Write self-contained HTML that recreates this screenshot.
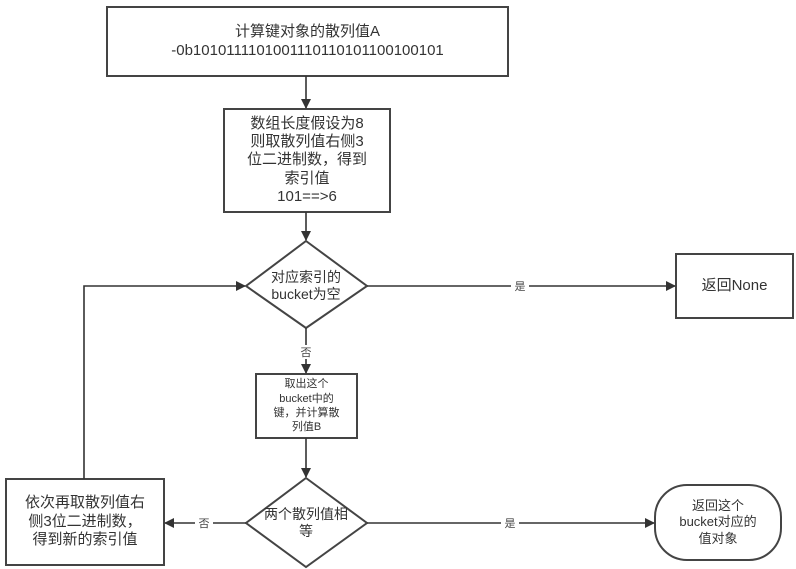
<!DOCTYPE html>
<html><head><meta charset="utf-8"><style>
body{margin:0;background:#fff;width:796px;height:569px;overflow:hidden;position:relative;font-family:"Liberation Sans","Noto Sans CJK SC",sans-serif;color:#333}
.t{position:absolute;text-align:center;display:flex;align-items:center;justify-content:center;line-height:1.25}
</style></head><body>
<svg width="796" height="569" style="position:absolute;left:0;top:0" xmlns="http://www.w3.org/2000/svg">
<defs><marker id="a" markerWidth="10" markerHeight="10" refX="9" refY="5" orient="auto" markerUnits="userSpaceOnUse"><path d="M0,0 L10,5 L0,10 z" fill="#333"/></marker></defs>
<g fill="none" stroke="#444" stroke-width="2">
<rect x="107" y="7" width="401" height="69"/>
<rect x="224" y="109" width="166" height="103"/>
<polygon points="306,241 367,286 306,328 246,286"/>
<rect x="676" y="254" width="117" height="64"/>
<rect x="256" y="374" width="101" height="64"/>
<polygon points="306,478 367,523 306,567 246,523"/>
<rect x="6" y="479" width="158" height="86"/>
<rect x="655" y="485" width="126" height="75" rx="32"/>
<g stroke="#333" stroke-width="1.6">
<line x1="306" y1="76" x2="306" y2="108" marker-end="url(#a)"/>
<line x1="306" y1="212" x2="306" y2="240" marker-end="url(#a)"/>
<line x1="367" y1="286" x2="675" y2="286" marker-end="url(#a)"/>
<line x1="306" y1="328" x2="306" y2="373" marker-end="url(#a)"/>
<line x1="306" y1="438" x2="306" y2="477" marker-end="url(#a)"/>
<line x1="367" y1="523" x2="654" y2="523" marker-end="url(#a)"/>
<line x1="246" y1="523" x2="165" y2="523" marker-end="url(#a)"/>
<polyline points="84,479 84,286 245,286" marker-end="url(#a)"/>
</g></g>
<g font-size="11" fill="#444" text-anchor="middle" font-family="Liberation Sans,Noto Sans CJK SC,sans-serif">
<rect x="511" y="279" width="18" height="14" fill="#fff"/><text x="520" y="290">是</text>
<rect x="297" y="345" width="18" height="14" fill="#fff"/><text x="306" y="356">否</text>
<rect x="501" y="516" width="18" height="14" fill="#fff"/><text x="510" y="527">是</text>
<rect x="195" y="516" width="18" height="14" fill="#fff"/><text x="204" y="527">否</text>
</g>
</svg>
<div class="t" style="left:107px;top:7px;width:401px;height:69px;font-size:15px">计算键对象的散列值A<br>-0b1010111101001110110101100100101</div>
<div class="t" style="left:224px;top:109px;width:166px;height:103px;font-size:15px;line-height:1.22">数组长度假设为8<br>则取散列值右侧3<br>位二进制数，得到<br>索引值<br>101==>6</div>
<div class="t" style="left:250px;top:262px;width:112px;height:48px;font-size:14px">对应索引的<br>bucket为空</div>
<div class="t" style="left:676px;top:254px;width:117px;height:64px;font-size:15px">返回None</div>
<div class="t" style="left:256px;top:374px;width:101px;height:64px;font-size:11px;line-height:1.3">取出这个<br>bucket中的<br>键，并计算散<br>列值B</div>
<div class="t" style="left:250px;top:500px;width:112px;height:46px;font-size:14px">两个散列值相<br>等</div>
<div class="t" style="left:6px;top:479px;width:158px;height:86px;font-size:15px">依次再取散列值右<br>侧3位二进制数，<br>得到新的索引值</div>
<div class="t" style="left:655px;top:485px;width:126px;height:75px;font-size:13px">返回这个<br>bucket对应的<br>值对象</div>
</body></html>
